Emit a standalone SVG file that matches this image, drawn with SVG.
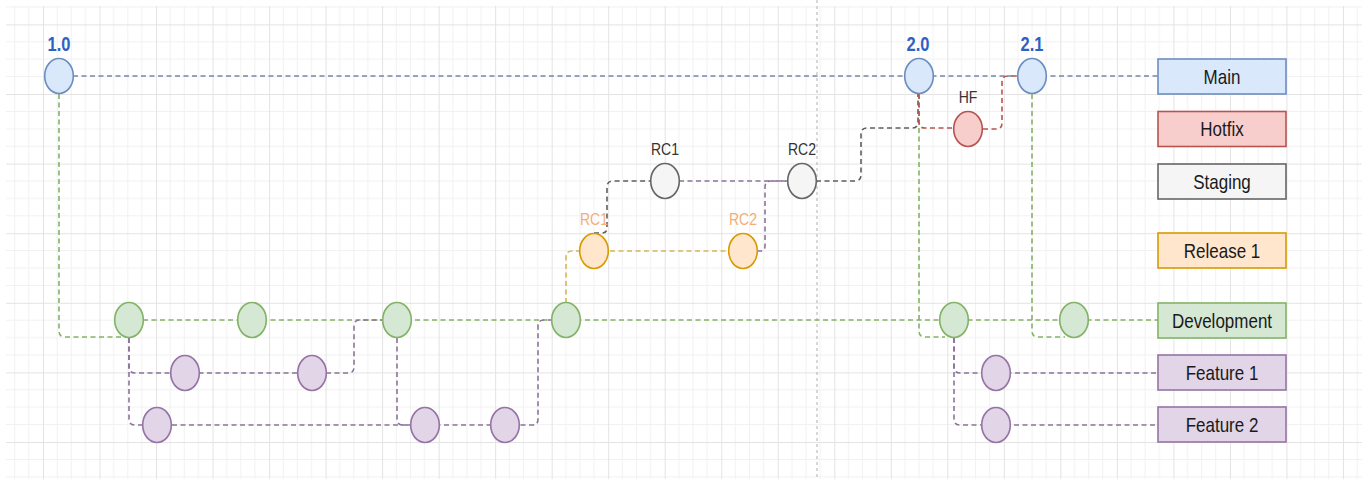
<svg xmlns="http://www.w3.org/2000/svg" width="1362" height="479" viewBox="0 0 1362 479">
  <defs>
    <pattern id="grid" patternUnits="userSpaceOnUse" x="43" y="24.4" width="56.52" height="69.6">
      <g stroke="#f1f1f1" stroke-width="1" fill="none">
        <path d="M14.13,0 V69.6 M28.26,0 V69.6 M42.39,0 V69.6 M0,17.4 H56.52 M0,34.8 H56.52 M0,52.2 H56.52"/>
      </g>
      <g stroke="#e3e3e3" stroke-width="1" fill="none">
        <path d="M0.5,0 V69.6 M0,0.5 H56.52"/>
      </g>
    </pattern>
    <style>
      .edge { fill: none; stroke-width: 1.6; stroke-dasharray: 5 3.5; }
      .main { stroke: #7586aa; }
      .dev { stroke: #82b366; }
      .feat { stroke: #8c7399; }
      .stg { stroke: #5e5e5e; }
      .hot { stroke: #b85450; }
      .rel { stroke: #d6b656; }
      .commit { stroke-width: 1.6; }
      .box { stroke-width: 1.6; }
      .c-main { fill: #dae8fc; stroke: #6c8ebf; }
      .c-hot { fill: #f8cecc; stroke: #b85450; }
      .c-stg { fill: #f5f5f5; stroke: #666666; }
      .c-rel { fill: #ffe6cc; stroke: #d79b00; }
      .c-dev { fill: #d5e8d4; stroke: #82b366; }
      .c-feat { fill: #e1d5e7; stroke: #9673a6; }
      text { font-family: "Liberation Sans", Arial, sans-serif; text-anchor: middle; dominant-baseline: central;
             transform-box: fill-box; transform-origin: center; transform: scaleY(1.2); }
      .lbl { font-size: 17px; fill: #1a1a1a; }
      .ver { font-size: 16.5px; font-weight: bold; fill: #2d62c4; }
      .tag { font-size: 14px; fill: #333333; }
      .tag-rel { font-size: 14px; fill: #f2ad7a; }
    </style>
  </defs>

  <!-- canvas grid -->
  <rect x="0" y="0" width="1362" height="479" fill="#ffffff"/>
  <rect x="6" y="6" width="1356" height="473" fill="url(#grid)"/>
  <!-- page break -->
  <line x1="817" y1="0" x2="817" y2="479" stroke="#b0b0b0" stroke-width="1" stroke-dasharray="3 3"/>

  <g id="connectors">
    <!-- main line -->
    <path class="edge main" d="M73,76 H1158"/>
    <!-- development -->
    <path class="edge dev" d="M59,94 V331 Q59,337 65,337 H129"/>
    <path class="edge dev" d="M143,320 H1158"/>
    <path class="edge dev" d="M919,94 V331 Q919,337 925,337 H945"/>
    <path class="edge dev" d="M1032,94 V331 Q1032,337 1038,337 H1065"/>
    <!-- feature branches -->
    <path class="edge feat" d="M129,338 V367 Q129,373 135,373 H349 Q354,373 354,367 V326 Q354,320 360,320 H383"/>
    <path class="edge feat" d="M129,338 V419 Q129,425 135,425 H533 Q538,425 538,419 V326 Q538,320 544,320 H552"/>
    <path class="edge feat" d="M397,338 V419 Q397,425 403,425 H411"/>
    <path class="edge feat" d="M954,338 V367 Q954,373 960,373 H1158"/>
    <path class="edge feat" d="M954,338 V419 Q954,425 960,425 H1158"/>
    <!-- release -->
    <path class="edge rel" d="M566,303 V257 Q566,251 572,251 H743"/>
    <!-- staging -->
    <path class="edge stg" d="M594,233 H602 Q607,233 607,228 V187 Q607,181 613,181 H651"/>
    <path class="edge feat" d="M679,181 H788"/>
    <path class="edge feat" d="M757,251 H760 Q765,251 765,246 V187 Q765,181 771,181 H788"/>
    <path class="edge stg" d="M816,181 H855 Q861,181 861,175 V134 Q861,128 867,128 H912 Q918,128 918,122 V94"/>
    <!-- hotfix -->
    <path class="edge hot" d="M919,94 V122 Q919,128 925,128 H954"/>
    <path class="edge hot" d="M983,129 H996 Q1002,129 1002,123 V82 Q1002,76 1008,76 H1018"/>
  </g>

  <!-- main commits -->
  <g id="main-1-0"><ellipse class="commit c-main" cx="59" cy="76" rx="14.3" ry="17.5"/><text class="ver" x="59" y="44.5">1.0</text></g>
  <g id="main-2-0"><ellipse class="commit c-main" cx="919" cy="76" rx="14.3" ry="17.5"/><text class="ver" x="918" y="44">2.0</text></g>
  <g id="main-2-1"><ellipse class="commit c-main" cx="1032" cy="76" rx="14.3" ry="17.5"/><text class="ver" x="1032" y="44">2.1</text></g>

  <!-- hotfix commit -->
  <g id="hotfix-hf"><ellipse class="commit c-hot" cx="968" cy="129" rx="14.3" ry="17.5"/><text class="tag" x="968" y="97.5">HF</text></g>

  <!-- staging commits -->
  <g id="staging-rc1"><ellipse class="commit c-stg" cx="665" cy="181" rx="14.3" ry="17.5"/><text class="tag" x="665" y="149">RC1</text></g>
  <g id="staging-rc2"><ellipse class="commit c-stg" cx="802" cy="181" rx="14.3" ry="17.5"/><text class="tag" x="802" y="149">RC2</text></g>

  <!-- release commits -->
  <g id="release-rc1"><ellipse class="commit c-rel" cx="594" cy="251" rx="14.3" ry="17.5"/><text class="tag-rel" x="594" y="219">RC1</text></g>
  <g id="release-rc2"><ellipse class="commit c-rel" cx="743" cy="251" rx="14.3" ry="17.5"/><text class="tag-rel" x="743" y="219">RC2</text></g>

  <!-- development commits -->
  <g id="dev-1"><ellipse class="commit c-dev" cx="129" cy="320" rx="14.3" ry="17.5"/></g>
  <g id="dev-2"><ellipse class="commit c-dev" cx="252" cy="320" rx="14.3" ry="17.5"/></g>
  <g id="dev-3"><ellipse class="commit c-dev" cx="397" cy="320" rx="14.3" ry="17.5"/></g>
  <g id="dev-4"><ellipse class="commit c-dev" cx="566" cy="320" rx="14.3" ry="17.5"/></g>
  <g id="dev-5"><ellipse class="commit c-dev" cx="954" cy="320" rx="14.3" ry="17.5"/></g>
  <g id="dev-6"><ellipse class="commit c-dev" cx="1074" cy="320" rx="14.3" ry="17.5"/></g>

  <!-- feature 1 commits -->
  <g id="f1-1"><ellipse class="commit c-feat" cx="185" cy="373" rx="14.3" ry="17.5"/></g>
  <g id="f1-2"><ellipse class="commit c-feat" cx="312" cy="373" rx="14.3" ry="17.5"/></g>
  <g id="f1-3"><ellipse class="commit c-feat" cx="996" cy="373" rx="14.3" ry="17.5"/></g>

  <!-- feature 2 commits -->
  <g id="f2-1"><ellipse class="commit c-feat" cx="157" cy="425" rx="14.3" ry="17.5"/></g>
  <g id="f2-2"><ellipse class="commit c-feat" cx="425" cy="425" rx="14.3" ry="17.5"/></g>
  <g id="f2-3"><ellipse class="commit c-feat" cx="505" cy="425" rx="14.3" ry="17.5"/></g>
  <g id="f2-4"><ellipse class="commit c-feat" cx="996" cy="425" rx="14.3" ry="17.5"/></g>

  <!-- branch legend -->
  <g id="branch-main"><rect class="box c-main" x="1158" y="59" width="128" height="35"/><text class="lbl" x="1222" y="76.5">Main</text></g>
  <g id="branch-hotfix"><rect class="box c-hot" x="1158" y="111.5" width="128" height="35"/><text class="lbl" x="1222" y="129">Hotfix</text></g>
  <g id="branch-staging"><rect class="box c-stg" x="1158" y="164" width="128" height="35"/><text class="lbl" x="1222" y="181.5">Staging</text></g>
  <g id="branch-release"><rect class="box c-rel" x="1158" y="233" width="128" height="35"/><text class="lbl" x="1222" y="250.5">Release 1</text></g>
  <g id="branch-development"><rect class="box c-dev" x="1158" y="303" width="128" height="35"/><text class="lbl" x="1222" y="320.5">Development</text></g>
  <g id="branch-feature1"><rect class="box c-feat" x="1158" y="355" width="128" height="35"/><text class="lbl" x="1222" y="372.5">Feature 1</text></g>
  <g id="branch-feature2"><rect class="box c-feat" x="1158" y="407" width="128" height="35"/><text class="lbl" x="1222" y="424.5">Feature 2</text></g>
</svg>
